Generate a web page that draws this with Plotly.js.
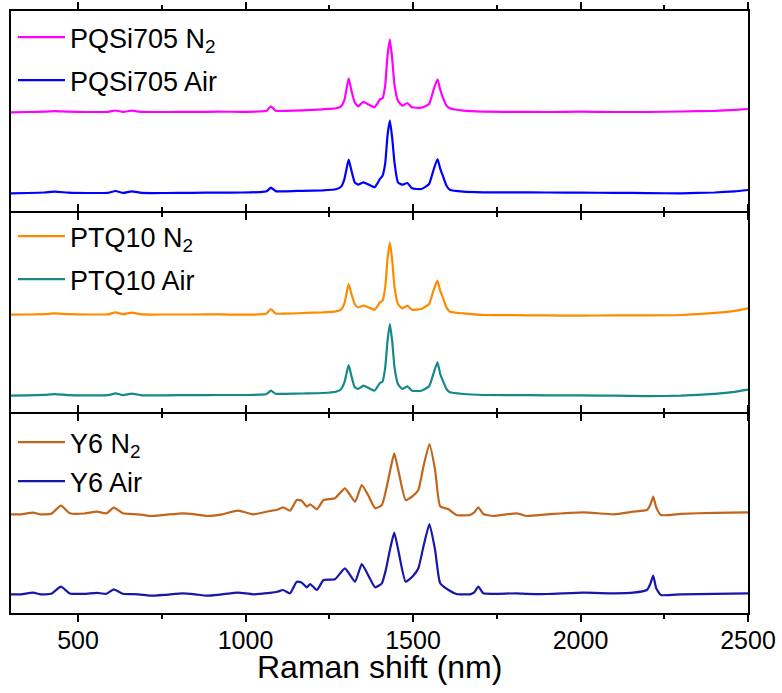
<!DOCTYPE html>
<html>
<head>
<meta charset="utf-8">
<script src="https://cdn.plot.ly/plotly-3.0.1.min.js"></script>
<style>html,body{margin:0;padding:0;background:#fff;}#chart{width:782px;height:693px;}</style>
</head>
<body>
<div id="chart"></div>
<script>
// Raman shift grid for PQSi705 and PTQ10 spectra
const gridA = [300,350,400,431,470,530,590,612,635,660,690,760,840,920,990,1040,1063,1076,1090,1120,1170,1230,1270,1285,1295,1302,1308,1316,1326,1336,1352,1366,1385,1394,1401,1409,1417,1424,1431,1438,1445,1455,1468,1483,1497,1525,1548,1561,1573,1581,1589,1600,1610,1650,1710,1800,1900,2000,2100,2200,2300,2400,2460,2500];

const pqsiN2 = [0,0.3,0.6,1.2,0.6,0.3,0.5,1.8,0.4,1.6,0.4,0.3,0.4,0.6,0.5,0.8,1.5,6,1.5,1.5,2,3,4,6,12,24,34,22,10,6,10.5,8,5,9,13,14,27,57,72.6,53,27,11.6,6.6,9.3,5,4.6,8.3,22,33,23,15,6.6,4,1.6,0.6,0.5,0.3,0.6,0.3,0.3,0.8,1.5,2.5,3.3];
const pqsiAir = [0,0.3,0.8,1.6,0.7,0.3,0.5,2.3,0.4,2,0.4,0.3,0.5,0.7,0.8,1.2,2,5.6,2.2,2,2.5,3,4,6.5,14,25,33.6,23,11,8.6,11,9,6,10,14.3,17.6,30,58,72.6,55,30,11,8.6,10.3,5,4.3,9.3,23,34.3,25,17.6,7.6,3.6,1.6,1,1,0.8,0.6,0.5,0.2,0,0.8,2,3.3];

const ptqN2 = [0,0.2,0.6,1.3,0.5,0.2,0.4,2.3,0.4,2.1,0.3,0.2,0.2,0.3,0,0.3,1.2,5.7,1.2,1,1.7,2.3,3.3,5,11,22,30.7,21,10.7,7.3,9,7.5,5,8.5,12.3,14,27,56,72.3,54,27,10.7,6.3,9,5,5.7,10.7,24,34,24,17.3,7.3,3,1.3,-0.3,-0.5,-0.7,-1,-0.6,-0.6,-0.3,1.8,3.8,6.4];
const ptqAir = [0,0.3,0.8,1.5,0.6,0.3,0.5,2.3,0.5,2.1,0.4,0.4,0.6,0.7,0.7,1,1.8,5,2,1.8,2.2,2.7,4,6.5,13,23,30.7,20,8.4,6.7,10,8,5,9,12.7,14,28,55,71.7,54,28,11.7,6.7,9.4,5,5,9.4,22,33.4,22,15,6.7,3.4,1.7,0.7,0.6,0.4,0.3,0,-0.5,0,1.8,3.8,6];

// Raman shift grid for Y6 spectra
const gridY6 = [300,330,366,387,420,449,476,520,556,585,607,634,680,715,760,813,850,885,930,978,1023,1073,1095,1112,1133,1153,1168,1183,1193,1213,1233,1267,1297,1327,1347,1366,1387,1407,1420,1431,1444,1456,1478,1500,1516,1531,1549,1566,1581,1606,1630,1670,1683,1695,1710,1740,1810,1840,1900,2009,2100,2157,2198,2208,2217,2226,2240,2300,2400,2500];
const y6N2 = [0,0,1.7,0,0.5,8.6,1,0.8,2.7,1,6.7,1,0,-1.7,-0.5,1,0,-1.7,0,3.7,0,3.3,4.5,7,3.6,14.3,13.6,7.6,10,5,14.3,16,26,12.6,29.3,19.3,6,9.3,25,42.6,61,44.3,14.3,18.5,24.3,47.6,70.3,44.3,8,5,-0.7,-0.7,2,7,0.3,-1.7,1,-1.7,0,2,0,2.6,4.3,9,17.6,7,-0.7,0.5,1.5,2];
const y6Air = [0,0,1.7,0,0.5,7.6,0.8,0.5,1.5,0.5,5,0.5,0,-1.4,-0.5,1,0,-1.4,0,1.7,0,1.5,2.5,4.3,1,12.6,11.6,7,10.3,4.3,14.3,15,26,12.6,30.3,19.3,7,11,26,44.3,61.6,44.3,12.6,18.3,26,47.6,70.3,44.3,11,4.3,0.3,0,2,7.6,1,0.5,1,0.5,0.3,1.6,1,1.6,4.3,10,18.6,6,-0.7,0,0.5,1];

const names = ['PQSi705 N<sub>2</sub>','PQSi705 Air','PTQ10 N<sub>2</sub>','PTQ10 Air','Y6 N<sub>2</sub>','Y6 Air'];
const xTitle = 'Raman shift (nm)';

// vertical stacking offsets (a.u.)
const OFFSETS = {pqN2:98.7, pqAir:17.7, ptN2:97.3, ptAir:16.3, y6N2:98.7, y6Air:18.7};

const shift = (arr, off) => arr.map(v => v + off);
const FONT = 'Arial, "Liberation Sans", sans-serif';

function tr(x, y, off, name, color, yax, leg, grp) {
  return {x: x, y: shift(y, off), name: name, type: 'scatter', mode: 'lines',
    line: {color: color, width: 2.2, shape: 'spline', smoothing: 0.45},
    xaxis: yax === 'y' ? 'x' : 'x' + yax.slice(1), yaxis: yax, legend: leg, legendgroup: grp};
}

const data = [
  tr(gridA, pqsiN2, OFFSETS.pqN2, names[0], '#ff00ff', 'y3', 'legend', 'a'),
  tr(gridA, pqsiAir, OFFSETS.pqAir, names[1], '#0000ff', 'y3', 'legend', 'b'),
  tr(gridA, ptqN2, OFFSETS.ptN2, names[2], '#ff8a00', 'y2', 'legend2', 'c'),
  tr(gridA, ptqAir, OFFSETS.ptAir, names[3], '#15898a', 'y2', 'legend2', 'd'),
  tr(gridY6, y6N2, OFFSETS.y6N2, names[4], '#c2651c', 'y', 'legend3', 'e'),
  tr(gridY6, y6Air, OFFSETS.y6Air, names[5], '#1717aa', 'y', 'legend3', 'f')
];

const minorTicks = {dtick: 250, ticks: 'outside', ticklen: 4, tickwidth: 2, tickcolor: '#000', showgrid: false};
const xBase = {range: [300, 2500], tick0: 500, dtick: 500, showline: true, linewidth: 2, linecolor: '#000',
  mirror: 'ticks', ticks: 'outside', ticklen: 7, tickwidth: 2, tickcolor: '#000',
  minor: minorTicks, showgrid: false, zeroline: false};
const yBase = {showline: true, linewidth: 2, linecolor: '#000', mirror: true,
  ticks: '', showticklabels: false, showgrid: false, zeroline: false};
const legBase = {x: 2/737, xanchor: 'left', yanchor: 'top', bgcolor: 'rgba(0,0,0,0)',
  font: {family: FONT, size: 27, color: '#000'}, itemwidth: 47, tracegroupgap: 5, traceorder: 'grouped'};

const H = 602;
const layout = {
  width: 782, height: 693,
  margin: {l: 11, r: 34, t: 11, b: 80},
  paper_bgcolor: '#fff', plot_bgcolor: 'rgba(0,0,0,0)',
  font: {family: FONT, color: '#000'},
  xaxis: Object.assign({}, xBase, {anchor: 'y', tickfont: {size: 25, family: FONT}, ticklabelstandoff: -3}),
  xaxis2: Object.assign({}, xBase, {anchor: 'y2', showticklabels: false}),
  xaxis3: Object.assign({}, xBase, {anchor: 'y3', showticklabels: false}),
  yaxis: Object.assign({}, yBase, {domain: [0, 199/H], anchor: 'x', range: [0, 199]}),
  yaxis2: Object.assign({}, yBase, {domain: [201/H, 400/H], anchor: 'x2', range: [0, 199]}),
  yaxis3: Object.assign({}, yBase, {domain: [402/H, 1], anchor: 'x3', range: [0, 200]}),
  legend: Object.assign({}, legBase, {y: 1 - 2/H}),
  legend2: Object.assign({}, legBase, {y: 401/H}),
  legend3: Object.assign({}, legBase, {y: 195/H, tracegroupgap: 1}),
  annotations: [{text: xTitle, xref: 'paper', yref: 'paper', x: 0.5, y: -54/H, xanchor: 'center', yanchor: 'middle',
    showarrow: false, font: {family: FONT, size: 32, color: '#000'}}],
  showlegend: true
};

Plotly.newPlot('chart', data, layout, {displayModeBar: false, staticPlot: true});
</script>
</body>
</html>
